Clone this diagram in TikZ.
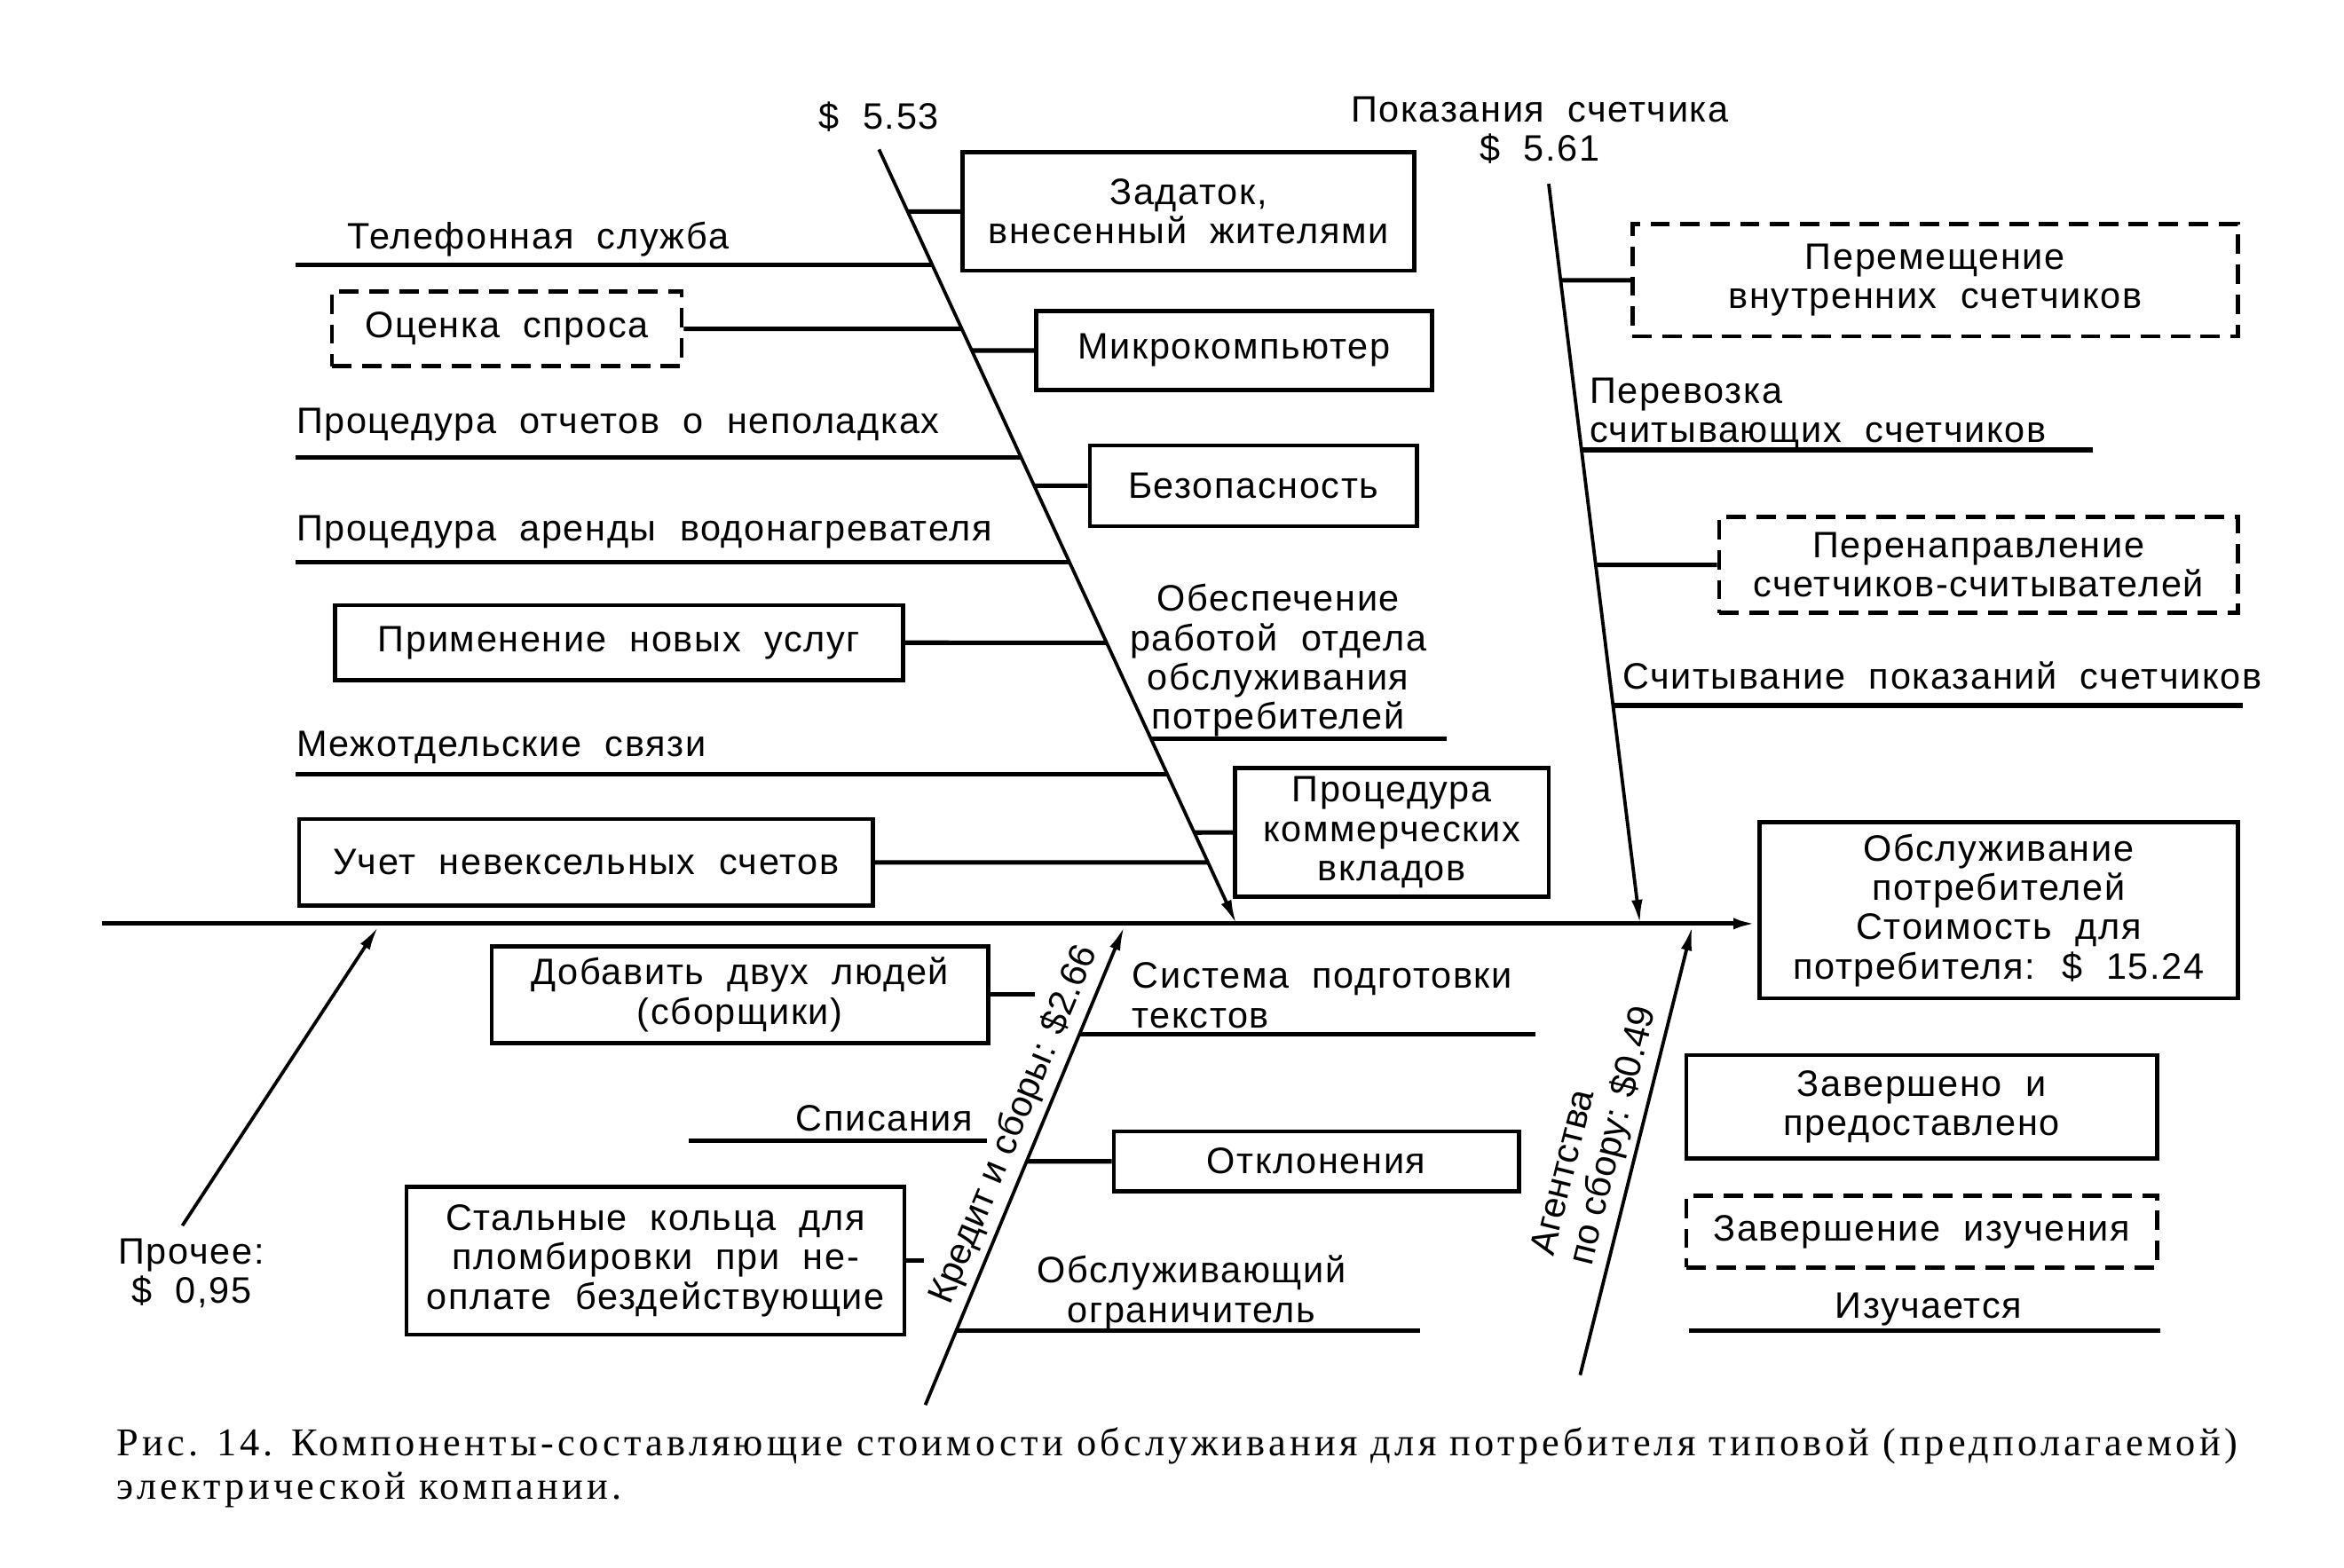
\documentclass[tikz,border=0pt]{standalone}
\usepackage{fontspec}
\setmainfont{Liberation Sans}[LetterSpace=4, WordSpace=2]
\newfontfamily\rotfont{Liberation Sans}
\newfontfamily\capfont{Liberation Serif}[LetterSpace=9.4]
\usetikzlibrary{arrows.meta}

\tikzset{
  box/.style={draw, line width=0.55mm, align=center, inner sep=0pt},
  dbox/.style={box, dash pattern=on 2.6mm off 1.4mm},
  lbl/.style={inner sep=0pt, align=left},
  rlbl/.style={lbl, sloped, above=0.8mm, font=\rotfont\fontsize{14}{15}\selectfont},
  bone/.style={line width=0.45mm, -{Latex[length=3.2mm,width=1.5mm]}},
  rib/.style={line width=0.6mm},
}

\begin{document}
\begin{tikzpicture}[x=0.2mm, y=-0.2mm, font=\fontsize{14}{15}\selectfont]
        \useasboundingbox (0,0) rectangle (1568,1049);
        % bones
        \coordinate (A0) at (588,100);  \coordinate (A1) at (827,618);
        \coordinate (B0) at (1036,123); \coordinate (B1) at (1097,618);
        \coordinate (P0) at (122,820);  \coordinate (P1) at (253,620);
        \coordinate (K0) at (619,940);  \coordinate (K1) at (752,620);
        \coordinate (G0) at (1057,920); \coordinate (G1) at (1132,620);
        \coordinate (S0) at (68,618);

        \node[box, minimum width=64mm, minimum height=23.6mm] (res) at (1337,609)
          {Обслуживание\\потребителей\\Стоимость для\\потребителя: \$ 15.24};

        \draw[bone, line width=0.6mm] (S0) -- (S0 -| res.west);
        \draw[bone] (A0) -- (A1);
        \draw[bone] (B0) -- (B1);
        \draw[bone] (P0) -- (P1);
        \draw[bone] (K0) -- (K1) node[pos=0.565, rlbl] {Кредит и сборы: \$2.66};
        \draw[bone] (G0) -- (G1) node[pos=0.52, rlbl] {Агентства\\по сбору: \$0.49};

        \node[lbl] (c1) at (588,78) {\$ 5.53};
        \node[lbl, align=center] (c2) at (1030,87) {Показания счетчика\\\$ 5.61};
        \node[lbl, align=center] (c3) at (128,852) {Прочее:\\\$ 0,95};

        % left of the upper left bone
        \node[lbl, anchor=west] (tel) at (232,160) {Телефонная служба};
        \coordinate (tel0) at (198,177); \coordinate (tel1) at (623.5,177);
        \draw[rib] (tel0) -- (tel1);
        \node[dbox, minimum width=46.8mm, minimum height=10mm] (ots) at (339,220) {Оценка спроса};
        \draw[rib] (ots.east) -- (intersection of A0--A1 and ots.east--ots.west);
        \node[lbl, anchor=west] (pr1) at (198,284) {Процедура отчетов о неполадках};
        \coordinate (pr10) at (198,306); \coordinate (pr11) at (683,306);
        \draw[rib] (pr10) -- (pr11);
        \node[lbl, anchor=west] (pr2) at (198,356) {Процедура аренды водонагревателя};
        \coordinate (pr20) at (198,376); \coordinate (pr21) at (715.3,376);
        \draw[rib] (pr20) -- (pr21);
        \node[box, minimum width=76mm, minimum height=10mm] (prim) at (414,430) {Применение новых услуг};
        \draw[rib] (prim.east) -- (intersection of A0--A1 and prim.east--prim.west);
        \node[lbl, anchor=west] (mezh) at (198,500) {Межотдельские связи};
        \coordinate (mezh0) at (198,518); \coordinate (mezh1) at (780.9,518);
        \draw[rib] (mezh0) -- (mezh1);
        \node[box, minimum width=76.8mm, minimum height=11.6mm] (uch) at (392,577) {Учет невексельных счетов};
        \draw[rib] (uch.east) -- (intersection of A0--A1 and uch.east--uch.west);

        % right of the upper left bone
        \node[box, minimum width=60.4mm, minimum height=15.8mm] (zad) at (795,141.5) {Задаток,\\внесенный жителями};
        \draw[rib] (intersection of A0--A1 and zad.west--zad.east) -- (zad.west);
        \node[box, minimum width=53mm, minimum height=10.6mm] (mik) at (825.5,234.5) {Микрокомпьютер};
        \draw[rib] (intersection of A0--A1 and mik.west--mik.east) -- (mik.west);
        \node[box, minimum width=43.8mm, minimum height=10.8mm] (bez) at (838.5,325) {Безопасность};
        \draw[rib] (intersection of A0--A1 and bez.west--bez.east) -- (bez.west);
        \node[lbl, align=center] (obe) at (855,442) {Обеспечение\\работой отдела\\обслуживания\\потребителей};
        \coordinate (obe0) at (769.8,494); \coordinate (obe1) at (968,494);
        \draw[rib] (obe0) -- (obe1);
        \node[box, minimum width=42mm, minimum height=17.2mm] (kom) at (931,557) {Процедура\\коммерческих\\вкладов};
        \draw[rib] (intersection of A0--A1 and kom.west--kom.east) -- (kom.west);

        % upper right bone
        \node[dbox, minimum width=81mm, minimum height=15mm] (per) at (1294.5,187.5) {Перемещение\\внутренних счетчиков};
        \draw[rib] (intersection of B0--B1 and per.west--per.east) -- (per.west);
        \node[lbl, anchor=west] (perv) at (1063,277) {Перевозка\\считывающих счетчиков};
        \coordinate (perv0) at (1057.9,301); \coordinate (perv1) at (1400,301);
        \draw[rib] (perv0) -- (perv1);
        \node[dbox, minimum width=69.4mm, minimum height=12.8mm] (pern) at (1323.5,378) {Перенаправление\\счетчиков-считывателей};
        \draw[rib] (intersection of B0--B1 and pern.west--pern.east) -- (pern.west);
        \node[lbl, anchor=west] (sch) at (1085,452) {Считывание показаний счетчиков};
        \coordinate (sch0) at (1079,472); \coordinate (sch1) at (1500,472);
        \draw[rib] (sch0) -- (sch1);

        % lower bone
        \node[box, minimum width=66.4mm, minimum height=13mm] (dob) at (495,665.5) {Добавить двух людей\\(сборщики)};
        \coordinate (dob1) at (692,665.5);
        \draw[rib] (dob.east) -- (dob1);
        \node[lbl, anchor=west] (sis) at (757,666) {Система подготовки\\текстов};
        \coordinate (sis0) at (722.1,692); \coordinate (sis1) at (1027,692);
        \draw[rib] (sis0) -- (sis1);
        \node[lbl, anchor=east] (spi) at (651,748) {Списания};
        \coordinate (spi0) at (461,763); \coordinate (spi1) at (660,763);
        \draw[rib] (spi0) -- (spi1);
        \node[box, minimum width=54.2mm, minimum height=8mm] (otk) at (880.5,777) {Отклонения};
        \draw[rib] (intersection of K0--K1 and otk.west--otk.east) -- (otk.west);
        \node[box, minimum width=66.6mm, minimum height=19.8mm] (stal) at (438.5,843.5) {Стальные кольца для\\пломбировки при не-\\оплате бездействующие};
        \coordinate (stal1) at (618,843.5);
        \draw[rib] (stal.east) -- (stal1);
        \node[lbl, align=center] (obs) at (797,865) {Обслуживающий\\ограничитель};
        \coordinate (obs0) at (639.8,890); \coordinate (obs1) at (950,890);
        \draw[rib] (obs0) -- (obs1);

        % key
        \node[box, minimum width=63mm, minimum height=13.8mm] (zav) at (1285.5,740.5) {Завершено и\\предоставлено};
        \node[dbox, minimum width=63mm, minimum height=9.6mm] (zavi) at (1285.5,824) {Завершение изучения};
        \node[lbl] (izu) at (1290,876) {Изучается};
        \coordinate (izu0) at (1130,890); \coordinate (izu1) at (1445,890);
        \draw[rib] (izu0) -- (izu1);

        \node[lbl, anchor=north west, font=\capfont\fontsize{15}{16.5}\selectfont] (cap) at (78,955)
          {Рис. 14. Компоненты-составляющие стоимости обслуживания для потребителя типовой (предполагаемой)\\электрической компании.};
\end{tikzpicture}
\end{document}
